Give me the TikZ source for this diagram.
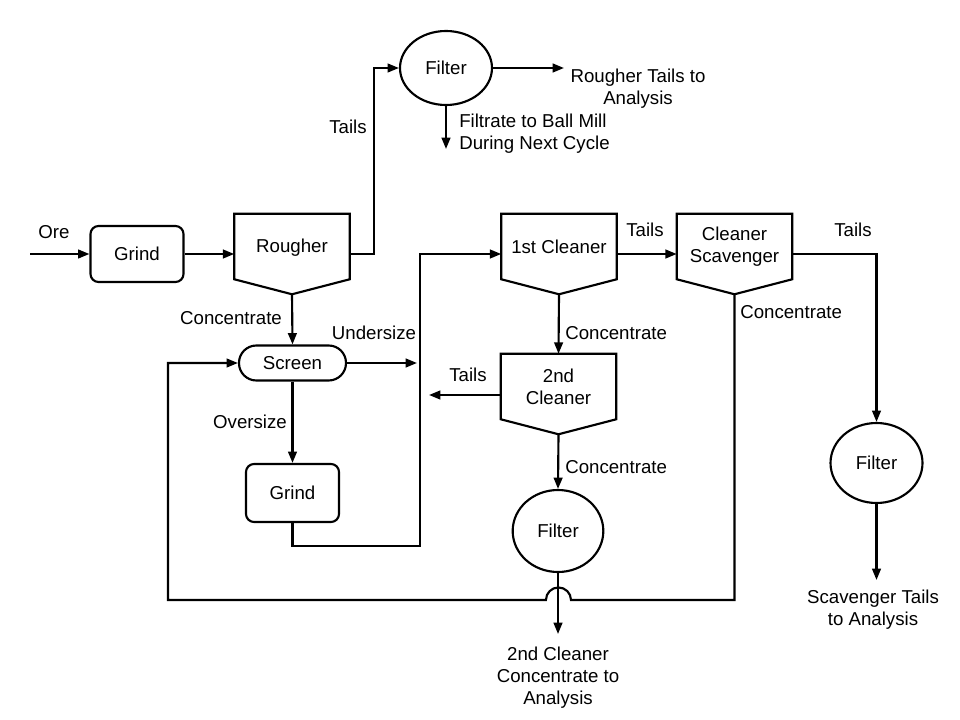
\documentclass[tikz,border=0pt]{standalone}
\usepackage{fontspec}
\setmainfont{Liberation Sans}
\usetikzlibrary{arrows.meta,shapes.geometric,calc}
\begin{document}
\begin{tikzpicture}[x=0.75pt,y=-0.75pt,
  every node/.style={font=\fontsize{14pt}{16.5pt}\selectfont},
  line/.style={line width=1.6pt,black},
  arr/.style={line width=1.6pt,-{Triangle[length=8.5pt,width=6.5pt]}},
  box/.style={draw,line width=1.6pt,rectangle,rounded corners=6pt,minimum width=69.75pt,minimum height=42pt,inner sep=0pt},
  screenbox/.style={draw,line width=1.6pt,rectangle,rounded corners=13pt,minimum width=80.25pt,minimum height=26.25pt,inner sep=0pt},
  cellbox/.style={rectangle,minimum width=86.25pt,minimum height=48.75pt,inner sep=0pt,align=center},
  filt/.style={draw,line width=1.6pt,ellipse,minimum width=69pt,minimum height=60pt,inner sep=0pt},
  lbl/.style={align=center,inner sep=0pt}]
\useasboundingbox (0,0) rectangle (960,720);

% flotation cells
\node[cellbox] (rough) at (292,248) {Rougher};
\node[cellbox] (c1) at (559,246.5) {1st Cleaner};
\node[cellbox] (scav) at (734.5,246.5) {Cleaner\\Scavenger};
\node[cellbox] (c2) at (558.5,386.5) {2nd\\Cleaner};
\foreach \n/\dy in {rough/-1.5,c1/0,scav/0,c2/0}{
  \draw[line,line join=miter] ($(\n.north west)+(0,\dy)$) -- ($(\n.north east)+(0,\dy)$) -- ($(\n.south east)+(0,\dy)$)
    -- ($(\n.south)+(0,15+\dy)$) -- ($(\n.south west)+(0,\dy)$) -- cycle;
  \coordinate (\n-b) at ($(\n.south)+(0,15+\dy)$);
}
\coordinate (rough-t) at ($(rough.east)+(0,6)$);
\coordinate (c1-in) at ($(c1.west)+(0,7.5)$);
\coordinate (c1-t) at ($(c1.east)+(0,7.5)$);
\coordinate (scav-in) at ($(scav.west)+(0,7.5)$);
\coordinate (scav-t) at ($(scav.east)+(0,7.5)$);
\coordinate (c2-t) at ($(c2.west)+(0,8.5)$);

% other units
\node[box] (g1) at (137,254) {Grind};
\node[box,minimum height=43.5pt] (g2) at (292.5,493) {Grind};
\node[screenbox] (scr) at (292.5,363) {Screen};
\node[filt,minimum height=55.5pt] (f1) at (446,68) {Filter};
\node[filt,minimum width=68pt,minimum height=61.5pt] (f2) at (558,531) {Filter};
\node[filt,minimum height=60pt] (f3) at (876.5,463) {Filter};

% free ends / bends
\coordinate (ore) at (30,254);
\coordinate (rt) at (374,254);
\coordinate (rta) at (564,68);
\coordinate (fil) at (446,149);
\coordinate (und) at (417,363);
\coordinate (j1) at (420,546);
\coordinate (c2ta) at (429,395);
\coordinate (f2a) at (558,634);
\coordinate (f3a) at (876.5,580);
\coordinate (ret) at (168,600);
\coordinate (hopR) at (571,600);

% connectors
\draw[arr] (ore) -- (g1.west);
\draw[arr] (g1.east) -- (g1.east -| rough.west);
\draw[arr] (rough-t) -- (rt) |- (f1.west);
\draw[arr] (f1.east) -- (rta);
\draw[arr] (f1.south) -- (fil);
\draw[arr] (rough-b) -- (scr.north);
\draw[arr] (scr.east) -- (und);
\draw[arr] (scr.south) -- (g2.north);
\draw[arr] (g2.south) |- (j1) |- (c1-in);
\draw[arr] (c1-t) -- (scav-in);
\draw[arr] (scav-t) -| (f3.north);
\draw[arr] (f3.south) -- (f3a);
\draw[arr] (c1-b) -- (c2.north);
\draw[arr] (c2-t) -- (c2ta);
\draw[arr] (c2-b) -- (f2.north);
\draw[arr] (f2.south) -- (f2a);
\draw[arr] (scav-b) |- (hopR) arc[start angle=0,end angle=180,radius=9.4pt] -- (ret) |- (scr.west);

% labels
\node[lbl] (l-ore) at (54,232) {Ore};
\node[lbl] (l-rt) at (348,127) {Tails};
\node[lbl] (l-rta) at (638,89) {Rougher Tails to\\Analysis};
\node[lbl,anchor=west,align=left] (l-fil) at (459,133.5) {Filtrate to Ball Mill\\During Next Cycle};
\node[lbl] (l-rc) at (231,318) {Concentrate};
\node[lbl] (l-und) at (374,333) {Undersize};
\node[lbl] (l-ovr) at (250,422) {Oversize};
\node[lbl] (l-c1t) at (645,230) {Tails};
\node[lbl] (l-sct) at (853,230) {Tails};
\node[lbl,anchor=west] (l-c1c) at (565,333) {Concentrate};
\node[lbl,anchor=west] (l-scc) at (740,312) {Concentrate};
\node[lbl] (l-c2t) at (468,375) {Tails};
\node[lbl,anchor=west] (l-c2c) at (565,467) {Concentrate};
\node[lbl] (l-f2a) at (558,678) {2nd Cleaner\\Concentrate to\\Analysis};
\node[lbl] (l-f3a) at (873,610) {Scavenger Tails\\to Analysis};
\end{tikzpicture}
\end{document}
